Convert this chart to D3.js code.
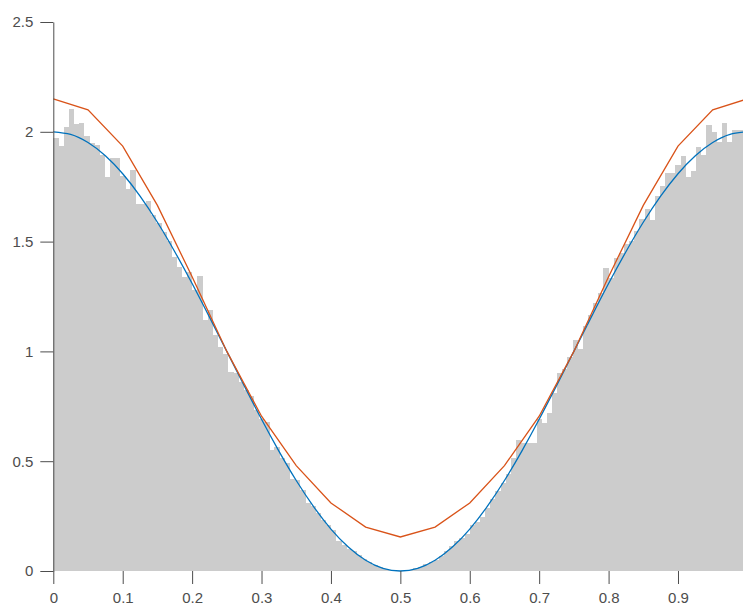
<!DOCTYPE html>
<html>
<head>
<meta charset="utf-8">
<script src="https://cdn.jsdelivr.net/npm/d3@7"></script>
<style>
  body { margin: 0; background: #fff; }
  svg { display: block; }
  .axis text { font-family: "Liberation Sans", Arial, Helvetica, sans-serif; font-size: 15px; fill: #4d4d4d; }
  .axis line, .axis path { stroke: #4d4d4d; }
</style>
</head>
<body>
<svg width="743" height="608"></svg>
<script>
// histogram: 135 bins over [0, 1], density heights
var binCount = 135;
var binHeights = [
  1.97, 1.935, 2.02, 2.105, 2.035, 2.04, 1.98, 1.95, 1.94, 1.895,
  1.795, 1.88, 1.88, 1.80, 1.74, 1.825, 1.67, 1.67, 1.685, 1.62,
  1.585, 1.545, 1.505, 1.43, 1.385, 1.34, 1.36, 1.28, 1.345, 1.145,
  1.19, 1.075, 1.02, 0.99, 0.905, 0.90, 0.86, 0.825, 0.795, 0.735,
  0.69, 0.68, 0.55, 0.565, 0.515, 0.49, 0.42, 0.415, 0.37, 0.31,
  0.295, 0.265, 0.232, 0.21, 0.185, 0.135, 0.12, 0.10, 0.09, 0.072,
  0.053, 0.04, 0.028, 0.018, 0.01, 0.005, 0.002, 0.0005, 0.001, 0.005,
  0.012, 0.02, 0.03, 0.04, 0.05, 0.068, 0.09, 0.112, 0.135, 0.15,
  0.17, 0.21, 0.225, 0.245, 0.285, 0.33, 0.365, 0.40, 0.44, 0.513,
  0.597, 0.582, 0.582, 0.582, 0.69, 0.675, 0.72, 0.81, 0.90, 0.92,
  0.976, 1.05, 1.01, 1.116, 1.166, 1.219, 1.267, 1.381, 1.336, 1.424,
  1.447, 1.489, 1.504, 1.55, 1.602, 1.647, 1.598, 1.708, 1.753, 1.811,
  1.814, 1.849, 1.89, 1.796, 1.823, 1.932, 1.894, 2.031, 1.998, 1.955,
  2.041, 1.955, 2.008, 2.008, 2.0
];

// blue curve, sampled every 0.025
var blueX = [0, 0.025, 0.05, 0.075, 0.1, 0.125, 0.15, 0.175, 0.2, 0.225,
  0.25, 0.275, 0.3, 0.325, 0.35, 0.375, 0.4, 0.425, 0.45, 0.475,
  0.5, 0.525, 0.55, 0.575, 0.6, 0.625, 0.65, 0.675, 0.7, 0.725,
  0.75, 0.775, 0.8, 0.825, 0.85, 0.875, 0.9, 0.925, 0.95, 0.975, 1];
var blueY = [2.0, 1.988, 1.951, 1.891, 1.809, 1.707, 1.588, 1.454, 1.309, 1.156,
  1.0, 0.844, 0.691, 0.546, 0.412, 0.293, 0.191, 0.109, 0.049, 0.012,
  0.0, 0.012, 0.049, 0.109, 0.191, 0.293, 0.412, 0.546, 0.691, 0.844,
  1.0, 1.156, 1.309, 1.454, 1.588, 1.707, 1.809, 1.891, 1.951, 1.988, 2.0];

// red polyline, every 0.05
var redX = [0, 0.05, 0.1, 0.15, 0.2, 0.25, 0.3, 0.35, 0.4, 0.45, 0.5,
  0.55, 0.6, 0.65, 0.7, 0.75, 0.8, 0.85, 0.9, 0.95, 1];
var redY = [2.15, 2.10, 1.935, 1.665, 1.34, 1.0, 0.705, 0.48, 0.31, 0.20, 0.155,
  0.20, 0.31, 0.48, 0.705, 1.0, 1.34, 1.665, 1.935, 2.10, 2.15];

var xTicks = [0, 0.1, 0.2, 0.3, 0.4, 0.5, 0.6, 0.7, 0.8, 0.9];
var yTicks = [0, 0.5, 1, 1.5, 2, 2.5];

var svg = d3.select("svg");

// x reaches 1 just past the right edge of the window
var x = d3.scaleLinear().domain([0, 1]).range([53.3, 747.4]),
    y = d3.scaleLinear().domain([0, 2.5]).range([571, 22]);

// bars
svg.append("g")
  .selectAll("rect")
  .data(binHeights)
  .enter().append("rect")
  .attr("x", function(d, i) { return x(i / binCount); })
  .attr("width", function(d, i) { return x((i + 1) / binCount) - x(i / binCount) + 0.3; })
  .attr("y", function(d) { return y(d); })
  .attr("height", function(d) { return y(0) - y(d); })
  .attr("fill", "#cccccc")
  .attr("shape-rendering", "crispEdges");

var blueLine = d3.line()
  .curve(d3.curveNatural)
  .x(function(d, i) { return x(blueX[i]); })
  .y(function(d) { return y(d); });

var redLine = d3.line()
  .x(function(d, i) { return x(redX[i]); })
  .y(function(d) { return y(d); });

svg.append("path")
  .attr("d", blueLine(blueY))
  .attr("fill", "none")
  .attr("stroke", "#0072bd")
  .attr("stroke-width", 1.3);

svg.append("path")
  .attr("d", redLine(redY))
  .attr("fill", "none")
  .attr("stroke", "#d95319")
  .attr("stroke-width", 1.3);

// axes
var fmt = d3.format("~g");

var xAxis = svg.append("g")
  .attr("class", "axis")
  .attr("transform", "translate(0,571)")
  .call(d3.axisBottom(x).tickValues(xTicks).tickFormat(fmt).tickSize(13).tickPadding(8));
xAxis.select(".domain").remove();

svg.append("g")
  .attr("class", "axis")
  .attr("transform", "translate(53.3,0)")
  .call(d3.axisLeft(y).tickValues(yTicks).tickFormat(fmt).tickSize(13).tickSizeOuter(0).tickPadding(7));
</script>
</body>
</html>
